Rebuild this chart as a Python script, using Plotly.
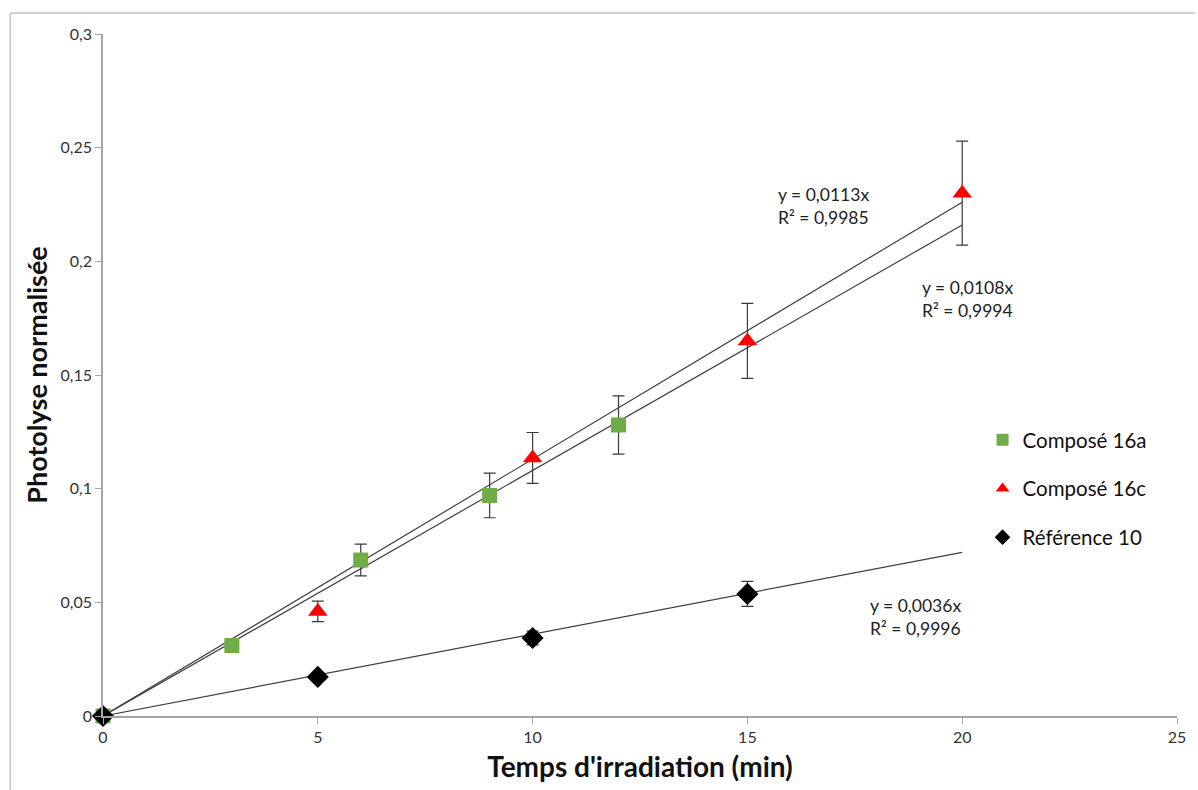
import plotly.graph_objects as go

# ---- data ----
x_16a = [0, 3, 6, 9, 12]
y_16a = [0.0, 0.031, 0.0686, 0.097, 0.128]
e_16a = [0.0, 0.002, 0.007, 0.0098, 0.0128]

x_16c = [0, 5, 10, 15, 20]
y_16c = [-0.001, 0.046, 0.1135, 0.165, 0.230]
e_16c = [0.0, 0.0045, 0.0112, 0.0165, 0.0229]

x_ref = [0, 5, 10, 15]
y_ref = [0.0, 0.0172, 0.0343, 0.0537]
e_ref = [0.0, 0.0015, 0.003, 0.0055]

trend_x = [0, 20]
slope_16a = 0.0113
slope_16c = 0.0108
slope_ref = 0.0036

eq_labels = [
    ("y = 0,0113x<br>R² = 0,9985", 16.78, 0.2244),
    ("y = 0,0108x<br>R² = 0,9994", 20.13, 0.1835),
    ("y = 0,0036x<br>R² = 0,9996", 18.92, 0.0436),
]

y_tickvals = [0, 0.05, 0.1, 0.15, 0.2, 0.25, 0.3]
y_ticktext = ["0", "0,05", "0,1", "0,15", "0,2", "0,25", "0,3"]
x_tickvals = [0, 5, 10, 15, 20, 25]

FONT = "Lato"
ERR_COLOR = "#3a3a3a"
LINE_COLOR = "#404040"

fig = go.Figure()

# trendlines
for s in (slope_16a, slope_16c, slope_ref):
    fig.add_trace(go.Scatter(
        x=trend_x, y=[s * v for v in trend_x], mode="lines",
        line=dict(color=LINE_COLOR, width=1.2), showlegend=False, hoverinfo="skip"))

fig.add_trace(go.Scatter(
    x=x_16a, y=y_16a, mode="markers", name="Composé 16a", legendgroup="a",
    marker=dict(symbol="square", size=15, color="#70AD47"), cliponaxis=False,
    error_y=dict(type="data", array=e_16a, color=ERR_COLOR, thickness=1.2, width=6)))

fig.add_trace(go.Scatter(
    x=x_16c, y=y_16c, mode="markers", name="Composé 16c", legendgroup="c",
    marker=dict(symbol="triangle-up", size=17, color="#FF0000"), cliponaxis=False,
    error_y=dict(type="data", array=e_16c, color=ERR_COLOR, thickness=1.2, width=6)))

fig.add_trace(go.Scatter(
    x=x_ref, y=y_ref, mode="markers", name="Référence 10", legendgroup="r",
    marker=dict(symbol="diamond", size=17, color="#000000"), cliponaxis=False,
    error_y=dict(type="data", array=e_ref, color=ERR_COLOR, thickness=1.2, width=6)))

for txt, xx, yy in eq_labels:
    fig.add_annotation(x=xx, y=yy, text=txt, showarrow=False, xanchor="center",
                       yanchor="middle", align="left",
                       font=dict(family=FONT, size=17.5, color="#222222"))

# outer frame (top & left edges)
fig.add_shape(type="line", xref="paper", yref="paper",
              x0=(10 - 103) / 1077, x1=(1198 - 103) / 1077,
              y0=(716 - 13) / 682, y1=(716 - 13) / 682,
              line=dict(color="#cfcfcf", width=2))
fig.add_shape(type="line", xref="paper", yref="paper",
              x0=(10 - 103) / 1077, x1=(10 - 103) / 1077,
              y0=(716 - 13) / 682, y1=(716 - 800) / 682,
              line=dict(color="#cfcfcf", width=2))

fig.update_layout(
    width=1198, height=790,
    margin=dict(l=103, r=18, t=34, b=74),
    paper_bgcolor="white", plot_bgcolor="white",
    font=dict(family=FONT, color="#333333"),
    legend=dict(x=(985 - 103) / 1077, y=(716 - 420) / 682, xanchor="left", yanchor="top",
                font=dict(family=FONT, size=20.5, color="#111111"),
                tracegroupgap=19, itemsizing="constant", bgcolor="rgba(0,0,0,0)"),
    xaxis=dict(range=[0, 25], tickvals=x_tickvals, showgrid=False, zeroline=False,
               showline=True, linecolor="#a6a6a6", linewidth=1.5,
               ticks="outside", ticklen=6, tickcolor="#a6a6a6",
               tickfont=dict(family=FONT, size=16, color="#333333"),
               title=dict(text="<b>Temps d'irradiation (min)</b>", standoff=12,
                          font=dict(family=FONT, size=28, color="#111111"))),
    yaxis=dict(range=[0, 0.3], tickvals=y_tickvals, ticktext=y_ticktext,
               showgrid=False, zeroline=False,
               showline=True, linecolor="#a6a6a6", linewidth=1.5,
               ticks="outside", ticklen=6, tickcolor="#a6a6a6",
               tickfont=dict(family=FONT, size=16, color="#333333"),
               title=dict(text="<b>Photolyse normalisée</b>", standoff=5,
                          font=dict(family=FONT, size=27, color="#111111"))),
)

fig.write_html("out.html", config={"displayModeBar": False},
               post_script="document.body.style.margin='0';")
